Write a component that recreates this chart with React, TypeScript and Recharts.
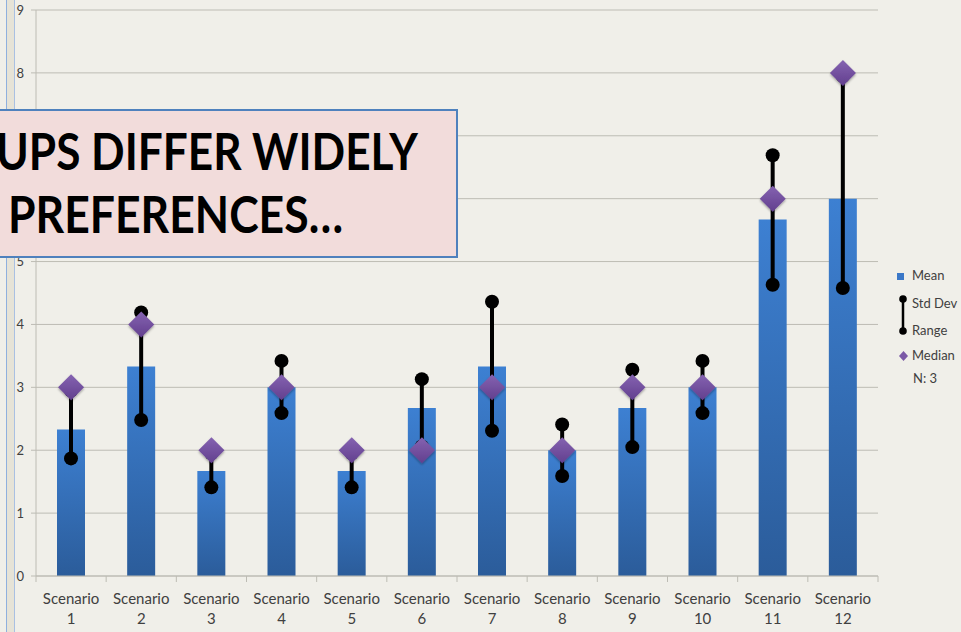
import React from "react";
import { ComposedChart, Bar, Line, XAxis, YAxis, CartesianGrid } from "recharts";

// 各シナリオの値
const scenarios = ["1", "2", "3", "4", "5", "6", "7", "8", "9", "10", "11", "12"];
const means = [2.33, 3.33, 1.67, 3, 1.67, 2.67, 3.33, 2, 2.67, 3, 5.67, 6];
const sdLow = [1.87, 2.48, 1.41, 2.59, 1.41, 2.06, 2.31, 1.59, 2.05, 2.59, 4.63, 4.58];
const sdHigh = [2.95, 4.19, 1.95, 3.42, 1.95, 3.13, 4.36, 2.41, 3.28, 3.42, 6.69, 7.95];
const medians = [3, 4, 2, 3, 2, 2, 3, 2, 3, 3, 6, 8];
const yTicks = [0, 1, 2, 3, 4, 5, 6, 7, 8, 9];

const data = scenarios.map((s, i) => ({
  name: `Scenario ${s}`,
  num: s,
  mean: means[i],
  sd: [sdLow[i], sdHigh[i]],
  median: medians[i],
}));

const W = 961;
const H = 632;
const PLOT_LEFT = 36;
const PLOT_RIGHT = 878;
const BAND = (PLOT_RIGHT - PLOT_LEFT) / scenarios.length;
const FONT = "Lato, 'Open Sans', sans-serif";
const TEXT = "#404040";
const GRID = "#bdbcb4";

// 標準偏差の縦線＋両端の黒丸
const RangeShape = (props: any) => {
  const { x, y, width, height } = props;
  if (x == null || y == null) return null;
  const cx = x + width / 2;
  const top = Math.min(y, y + height);
  const bottom = Math.max(y, y + height);
  return (
    <g>
      <line x1={cx} x2={cx} y1={top} y2={bottom} stroke="#000" strokeWidth={4} />
      <circle cx={cx} cy={top} r={7} fill="#000" />
      <circle cx={cx} cy={bottom} r={7} fill="#000" />
    </g>
  );
};

// 中央値のひし形
const DiamondDot = (props: any) => {
  const { cx, cy, index } = props;
  if (cx == null || cy == null) return <g key={index} />;
  const s = 13;
  return (
    <polygon
      key={index}
      points={`${cx},${cy - s} ${cx + s},${cy} ${cx},${cy + s} ${cx - s},${cy}`}
      fill="url(#diamondGrad)"
      filter="url(#dshadow)"
    />
  );
};

// X軸ラベル（2行）と区切り目盛り
const ScenarioTick = (props: any) => {
  const { x, y, payload, index } = props;
  const left = x - BAND / 2;
  const right = x + BAND / 2;
  return (
    <g>
      <line x1={left} x2={left} y1={y} y2={y + 6} stroke={GRID} />
      {index === scenarios.length - 1 && (
        <line x1={right} x2={right} y1={y} y2={y + 6} stroke={GRID} />
      )}
      <text x={x} y={y + 28} textAnchor="middle" fill={TEXT} fontSize={15} fontFamily={FONT}>
        Scenario
      </text>
      <text x={x} y={y + 48} textAnchor="middle" fill={TEXT} fontSize={15} fontFamily={FONT}>
        {String(payload.value).replace("Scenario ", "")}
      </text>
    </g>
  );
};

function LegendBox() {
  return (
    <svg
      width={70}
      height={130}
      style={{ position: "absolute", left: 891, top: 262 }}
      fontFamily={FONT}
      fontSize={13}
    >
      <rect x={6} y={11} width={7} height={7} fill="#3b78c8" />
      <text x={21} y={18} fill={TEXT}>Mean</text>
      <line x1={12} x2={12} y1={37} y2={69} stroke="#000" strokeWidth={2.5} />
      <circle cx={12} cy={37} r={3.8} fill="#000" />
      <circle cx={12} cy={69} r={3.8} fill="#000" />
      <text x={21} y={46} fill={TEXT}>Std Dev</text>
      <text x={21} y={73} fill={TEXT}>Range</text>
      <polygon points="12.5,89 17,94 12.5,99 8,94" fill="#7b59a6" />
      <text x={21} y={98} fill={TEXT}>Median</text>
      <text x={22} y={121} fill={TEXT}>N: 3</text>
    </svg>
  );
}

export default function App() {
  return (
    <div
      style={{
        position: "fixed",
        left: 0,
        top: 0,
        width: W,
        height: H,
        background: "#f0efe9",
        overflow: "hidden",
      }}
    >
      {/* 左端のスライド枠 */}
      <div style={{ position: "absolute", left: 6, top: 0, width: 1, height: H, background: "#8fb0de" }} />
      <div style={{ position: "absolute", left: 7, top: 0, width: 7, height: H, background: "#e6e3d7" }} />
      <div style={{ position: "absolute", left: 14, top: 0, width: 1, height: H, background: "#a9c0e2" }} />

      <div style={{ position: "absolute", left: 0, top: 0 }}>
        <ComposedChart
          width={W}
          height={H}
          data={data}
          margin={{ top: 10, right: W - PLOT_RIGHT, bottom: 0, left: 0 }}
        >
          <defs>
            <linearGradient id="barGrad" x1="0" y1="0" x2="0" y2="1">
              <stop offset="0%" stopColor="#3d80d2" />
              <stop offset="100%" stopColor="#2b5c9a" />
            </linearGradient>
            <linearGradient id="diamondGrad" x1="0" y1="0" x2="0" y2="1">
              <stop offset="0%" stopColor="#8563b1" />
              <stop offset="100%" stopColor="#623f8e" />
            </linearGradient>
            <filter id="dshadow" x="-30%" y="-30%" width="160%" height="160%">
              <feDropShadow dx="0" dy="1.5" stdDeviation="1.2" floodColor="#000" floodOpacity="0.35" />
            </filter>
          </defs>
          <CartesianGrid vertical={false} stroke={GRID} strokeWidth={1} />
          <XAxis
            xAxisId="main"
            dataKey="name"
            height={H - 576}
            axisLine={{ stroke: GRID }}
            tickLine={false}
            tickSize={0}
            tickMargin={0}
            interval={0}
            tick={<ScenarioTick />}
          />
          <XAxis xAxisId="over" dataKey="name" hide />
          <YAxis
            width={PLOT_LEFT}
            domain={[0, 9]}
            ticks={yTicks}
            interval={0}
            axisLine={{ stroke: GRID }}
            tickLine={{ stroke: GRID }}
            tickSize={5}
            tickMargin={7}
            tick={{ fill: TEXT, fontSize: 13, fontFamily: FONT }}
          />
          <Bar
            xAxisId="main"
            dataKey="mean"
            barSize={28}
            fill="url(#barGrad)"
            isAnimationActive={false}
          />
          <Bar
            xAxisId="over"
            dataKey="sd"
            barSize={28}
            shape={<RangeShape />}
            isAnimationActive={false}
          />
          <Line
            xAxisId="main"
            dataKey="median"
            stroke="none"
            dot={<DiamondDot />}
            activeDot={false}
            isAnimationActive={false}
          />
        </ComposedChart>
      </div>

      <LegendBox />

      {/* タイトルの吹き出し */}
      <svg
        width={470}
        height={152}
        style={{ position: "absolute", left: 0, top: 108 }}
      >
        <rect x={-10} y={2} width={467} height={147} fill="#f2dcdb" stroke="#4f81bd" strokeWidth={2} />
        <text
          x={-4}
          y={62}
          fontFamily={FONT}
          fontWeight={700}
          fontSize={51}
          fill="#000"
          textLength={422}
          lengthAdjust="spacingAndGlyphs"
        >
          UPS DIFFER WIDELY
        </text>
        <text
          x={8}
          y={125}
          fontFamily={FONT}
          fontWeight={700}
          fontSize={51}
          fill="#000"
          textLength={335}
          lengthAdjust="spacingAndGlyphs"
        >
          PREFERENCES…
        </text>
      </svg>
    </div>
  );
}
